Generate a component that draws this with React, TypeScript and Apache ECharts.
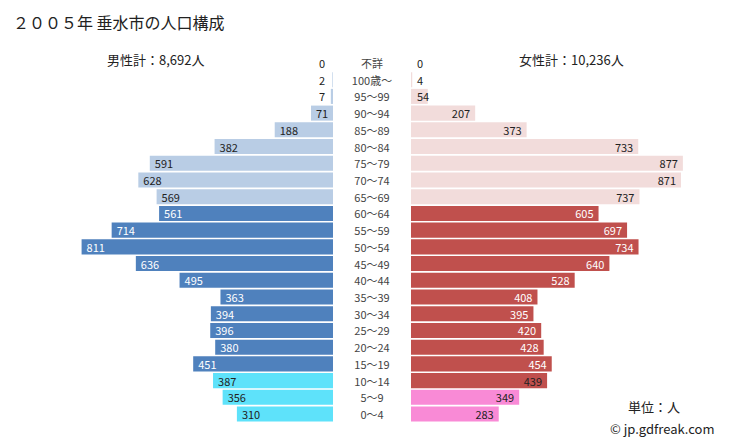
import React, { useEffect, useRef } from "react";
import * as echarts from "echarts";

const categories = [
  "不詳", "100歳～", "95～99", "90～94", "85～89", "80～84", "75～79", "70～74",
  "65～69", "60～64", "55～59", "50～54", "45～49", "40～44", "35～39", "30～34",
  "25～29", "20～24", "15～19", "10～14", "5～9", "0～4",
];
const maleValues = [0, 2, 7, 71, 188, 382, 591, 628, 569, 561, 714, 811, 636, 495, 363, 394, 396, 380, 451, 387, 356, 310];
const femaleValues = [0, 4, 54, 207, 373, 733, 877, 871, 737, 605, 697, 734, 640, 528, 408, 395, 420, 428, 454, 439, 349, 283];

const titleText = "２００５年 垂水市の人口構成";
const maleTotalText = "男性計：8,692人";
const femaleTotalText = "女性計：10,236人";
const unitText = "単位：人";
const creditText = "© jp.gdfreak.com";

const FONT = "'Noto Sans CJK JP', 'Noto Sans', sans-serif";

function maleStyle(i: number) {
  if (i <= 8) return { color: "#B9CDE5", label: "#222" };
  if (i <= 18) return { color: "#4F81BD", label: "#fff" };
  return { color: "#5EE2FA", label: "#222" };
}
function femaleStyle(i: number) {
  if (i <= 8) return { color: "#F2DCDB", label: "#222" };
  if (i <= 18) return { color: "#C0504D", label: "#fff" };
  if (i === 19) return { color: "#C0504D", label: "#222" };
  return { color: "#F98AD6", label: "#222" };
}

export default function App() {
  const ref = useRef<HTMLDivElement>(null);
  useEffect(() => {
    if (!ref.current) return;
    const chart = echarts.init(ref.current, null, { renderer: "svg" });
    const top = 54.6;
    const height = 367.8;
    const maleData = maleValues.map((v, i) => {
      const s = maleStyle(i);
      return {
        value: v,
        itemStyle: { color: s.color },
        label: {
          color: s.label,
          position: v < 30 ? "insideRight" : "insideLeft",
          distance: v < 30 ? 8 : 5,
        },
      };
    });
    const femaleData = femaleValues.map((v, i) => {
      const s = femaleStyle(i);
      return {
        value: v,
        itemStyle: { color: s.color },
        label: {
          color: s.label,
          position: v < 100 ? "insideLeft" : "insideRight",
          distance: v < 100 ? 6 : 5,
        },
      };
    });
    chart.setOption({
      animation: false,
      textStyle: { fontFamily: FONT },
      title: {
        text: titleText,
        left: 8,
        top: 9,
        textStyle: { fontSize: 16, fontWeight: "normal", color: "#222", fontFamily: FONT },
      },
      graphic: [
        { type: "text", left: 107, top: 53, style: { text: maleTotalText, fontSize: 13, fill: "#222", fontFamily: FONT } },
        { type: "text", left: 519, top: 53, style: { text: femaleTotalText, fontSize: 13, fill: "#222", fontFamily: FONT } },
        { type: "text", left: 628, top: 400, style: { text: unitText, fontSize: 13, fill: "#222", fontFamily: FONT } },
        { type: "text", left: 610, top: 422, style: { text: creditText, fontSize: 13, fill: "#222", fontFamily: FONT } },
      ],
      grid: [
        { left: 23, width: 310, top, height },
        { left: 411, width: 310, top, height },
      ],
      xAxis: [
        { type: "value", gridIndex: 0, min: 0, max: 1000, inverse: true, show: false },
        { type: "value", gridIndex: 1, min: 0, max: 1000, show: false },
      ],
      yAxis: [
        {
          type: "category",
          gridIndex: 0,
          data: categories,
          inverse: true,
          position: "right",
          axisLine: { show: false },
          axisTick: { show: false },
          axisLabel: { align: "center", margin: 39, fontSize: 11, color: "#444", fontFamily: FONT },
        },
        {
          type: "category",
          gridIndex: 1,
          data: categories,
          inverse: true,
          axisLine: { show: false },
          axisTick: { show: false },
          axisLabel: { show: false },
        },
      ],
      series: [
        {
          type: "bar",
          xAxisIndex: 0,
          yAxisIndex: 0,
          data: maleData,
          barCategoryGap: "10%",
          label: { show: true, fontSize: 11, fontFamily: FONT },
        },
        {
          type: "bar",
          xAxisIndex: 1,
          yAxisIndex: 1,
          data: femaleData,
          barCategoryGap: "10%",
          label: { show: true, fontSize: 11, fontFamily: FONT },
        },
      ],
    });
    return () => chart.dispose();
  }, []);
  return <div ref={ref} style={{ width: 729, height: 445, position: "absolute", left: 0, top: 0 }} />;
}
